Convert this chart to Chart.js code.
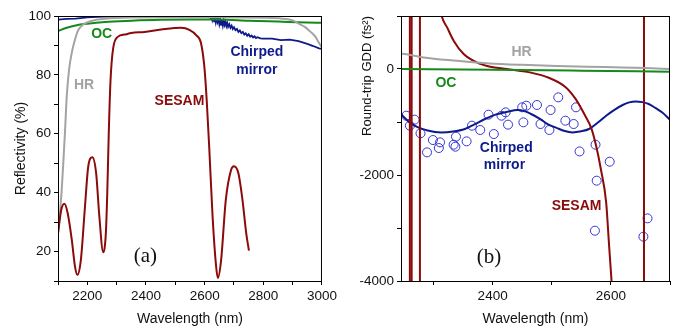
<!DOCTYPE html>
<html>
<head>
<meta charset="utf-8">
<script src="https://cdn.jsdelivr.net/npm/chart.js@4"></script>
<style>
  html, body { margin: 0; padding: 0; background: #fff; }
  .panel { position: absolute; top: 0; height: 328px; }
  #wrapA { left: 0; width: 340px; }
  #wrapB { left: 340px; width: 342px; }
</style>
</head>
<body>
<div class="panel" id="wrapA"><canvas id="chartA" width="340" height="328"></canvas></div>
<div class="panel" id="wrapB"><canvas id="chartB" width="342" height="328"></canvas></div>
<script>
// ---- panel (a): reflectivity (%) vs wavelength (nm)
const sesamReflX = [ 2100, 2111, 2122, 2133, 2147, 2158, 2166, 2178, 2192, 2203, 2217, 2230, 2241, 2254, 2263, 2268, 2273, 2279, 2288, 2305, 2327, 2350, 2395, 2452, 2520, 2548, 2571, 2588, 2599, 2607, 2616, 2627, 2639, 2645, 2656, 2672, 2690, 2700, 2715, 2729, 2742, 2751 ]
const sesamReflY = [ 26.2, 34.1, 36.2, 33, 24, 14.9, 12.1, 17.2, 35.3, 48.8, 52, 46.6, 31.9, 19.8, 26, 40, 60, 78, 89, 93, 93.7, 94.2, 94.6, 95.4, 96, 95.3, 93.5, 90.6, 82.7, 71.4, 54.5, 31.9, 15, 11, 17, 37.5, 47.7, 49, 46.6, 37.5, 26, 20.3 ]

const hrReflX = [ 2100, 2106, 2112, 2118, 2124, 2130, 2138, 2147, 2158, 2169, 2185, 2203, 2230, 2260, 2350, 2500, 2650, 2800, 2864, 2900, 2921, 2940, 2955, 2968, 2978, 2990, 3000 ]
const hrReflY = [ 26, 32, 40, 50, 61, 73, 82, 87.5, 92, 95.2, 97, 98, 98.7, 99.1, 99.5, 99.6, 99.6, 99.4, 99.1, 98.5, 97.4, 96.4, 95.2, 94, 92.9, 90.8, 89.3 ]

const ocReflX = [ 2100, 2130, 2160, 2200, 2260, 2350, 2450, 2550, 2650, 2750, 2850, 2950, 3000 ]
const ocReflY = [ 94.9, 96, 96.8, 97.4, 98, 98.4, 98.7, 98.8, 98.8, 98.4, 98.1, 97.8, 97.7 ]

const cmReflX = [ 2100, 2130, 2160, 2200, 2250, 2300, 2350, 2400, 2450, 2500, 2550, 2600, 2615, 2620, 2623, 2626, 2629, 2632, 2635, 2638, 2641, 2644, 2647, 2650, 2653, 2656, 2659, 2662, 2665, 2668, 2671, 2674, 2677, 2680, 2684, 2688, 2692, 2696, 2700, 2705, 2710, 2715, 2720, 2725, 2730, 2735, 2740, 2745, 2750, 2755, 2760, 2765, 2770, 2775, 2780, 2790, 2800, 2830, 2860, 2890, 2920, 2950, 2970, 2990, 3000 ]
const cmReflY = [ 98.8, 99, 99.1, 99.5, 99.8, 99.9, 99.7, 99.6, 99.6, 99.7, 99.7, 99.6, 99.6, 99.3, 99.8, 98.6, 99.7, 98.2, 99.5, 97.8, 99.3, 98, 99.2, 97.3, 98.9, 97, 98.6, 96.8, 98.5, 97, 98, 96.6, 97.6, 96.3, 97.2, 96, 96.7, 95.6, 96.2, 95.2, 95.6, 94.6, 95.1, 94.2, 94.6, 93.7, 94.1, 93.3, 93.8, 93, 93.4, 92.7, 93.1, 92.5, 92.8, 92.4, 92.3, 92.3, 91.8, 92, 91.5, 90.5, 89.8, 89, 88.8 ]

// ---- panel (b): round-trip GDD (fs^2) vs wavelength (nm)
const sesamGddX = [ 2310, 2314, 2323, 2334, 2351, 2373, 2396, 2424, 2463, 2496, 2524, 2540, 2555, 2567, 2575, 2583, 2592, 2597, 2603 ]
const sesamGddY = [ 1250, 994, 785, 534, 283, 125, 43, 0, -64, -170, -347, -560, -850, -1120, -1450, -1887, -2517, -3334, -4300 ]
const sesamPoleX = [ 2260, 2263, 2277, 2656 ]

const hrGddX = [ 2245, 2252, 2283, 2339, 2395, 2450, 2508, 2560, 2620, 2660, 2700 ]
const hrGddY = [ 290, 283, 219, 157, 106, 78, 57, 42, 30, 18, 0 ]

const ocGddX = [ 2245, 2400, 2550, 2700 ]
const ocGddY = [ 0, -15, -32, -50 ]

const cmFitX = [ 2245, 2252, 2262, 2274, 2290, 2313, 2333, 2353, 2370, 2387, 2405, 2425, 2442, 2455, 2465, 2480, 2493, 2508, 2522, 2535, 2550, 2563, 2578, 2592, 2606, 2620, 2631, 2642, 2653, 2664, 2676, 2687, 2700 ]
const cmFitY = [ -850, -930, -1030, -1100, -1160, -1196, -1180, -1132, -1040, -943, -860, -806, -774, -800, -849, -940, -1040, -1110, -1170, -1196, -1175, -1132, -1010, -881, -770, -679, -630, -611, -625, -660, -740, -819, -960 ]

const cmMeasX = [ 2254, 2260, 2268, 2278, 2289, 2299, 2309, 2311, 2334, 2337, 2338, 2356, 2365, 2379, 2393, 2402, 2415, 2422, 2426, 2450, 2452, 2457, 2475, 2481, 2498, 2496, 2511, 2523, 2537, 2541, 2547, 2574, 2576, 2598, 2573, 2655, 2662 ]
const cmMeasY = [ -881, -1069, -956, -1214, -1573, -1340, -1491, -1384, -1428, -1466, -1277, -1365, -1069, -1151, -862, -1227, -881, -818, -1050, -723, -1006, -692, -679, -1038, -774, -1151, -535, -975, -1038, -723, -1555, -1428, -2107, -1749, -3051, -3164, -2818 ]

const RED = '#8b0a0a', GRAY = '#a3a3a3', GREEN = '#15891a', NAVY = '#0d1a8c', BLUE = '#3535d2'

const pts = ( xs, ys ) => xs.map( ( x, i ) => ( { x: x, y: ys[ i ] } ) )

function line( xs, ys, color ) {
  return {
    data: pts( xs, ys ), borderColor: color, borderWidth: 2,
    pointRadius: 0, cubicInterpolationMode: 'monotone', fill: false
  }
}

// box around the plot area + in-plot labels (positions in data units)
function decor( labels ) {
  return {
    id: 'decor',
    afterDraw( chart ) {
      const { ctx, chartArea: a, scales } = chart
      ctx.save()
      ctx.strokeStyle = '#000'
      ctx.lineWidth = 1
      ctx.strokeRect( a.left + 0.5, a.top + 0.5, a.width - 1, a.height )
      ctx.textAlign = 'center'
      ctx.textBaseline = 'middle'
      labels.forEach( l => {
        ctx.fillStyle = l.color
        ctx.font = l.font
        ctx.fillText( l.text, scales.x.getPixelForValue( l.x ), scales.y.getPixelForValue( l.y ) )
      } )
      ctx.restore()
    }
  }
}

const BOLD = 'bold 14px "Liberation Sans", Arial, sans-serif'
const SERIF = '21px "Liberation Serif", "Times New Roman", serif'

function scales( o ) {
  const grid = { drawOnChartArea: false, tickLength: 4, tickColor: '#000', lineWidth: 1 }
  const border = { display: true, color: '#000', width: 1 }
  const tickFont = { size: 13.5 }
  return {
    x: {
      type: 'linear', min: o.xMin, max: o.xMax, grid, border,
      ticks: {
        stepSize: 100, includeBounds: false, maxRotation: 0, autoSkip: false,
        color: '#111', font: tickFont, padding: 3,
        callback: v => v % 200 === 0 ? String( v ) : ''
      },
      title: { display: true, text: 'Wavelength (nm)', color: '#111', font: { size: 14 }, padding: { top: 0, bottom: 0 } },
      afterFit: s => { s.height = 47 }
    },
    y: {
      type: 'linear', min: o.yMin, max: o.yMax, grid, border,
      ticks: {
        stepSize: o.yStep, includeBounds: false, autoSkip: false,
        color: '#111', font: tickFont, padding: 3,
        callback: v => v % ( o.yStep * 2 ) === 0 ? String( v ) : ''
      },
      title: { display: true, text: o.yTitle, align: o.titleAlign, color: '#111', font: { size: o.titleSize }, padding: { top: o.titlePad, bottom: 0 } },
      afterFit: s => { s.width = o.yWidth }
    }
  }
}

Chart.defaults.font.family = '"Liberation Sans", Arial, sans-serif'
Chart.defaults.animation = false

new Chart( document.getElementById( 'chartA' ), {
  type: 'line',
  data: {
    datasets: [
      line( sesamReflX, sesamReflY, RED ),
      line( hrReflX, hrReflY, GRAY ),
      line( ocReflX, ocReflY, GREEN ),
      Object.assign( line( cmReflX, cmReflY, NAVY ), { cubicInterpolationMode: 'default', tension: 0, borderWidth: 1.8 } )
    ]
  },
  options: {
    responsive: false,
    layout: { padding: { top: 16, right: 17, left: 0, bottom: 0 } },
    plugins: { legend: { display: false }, tooltip: { enabled: false } },
    scales: scales( { xMin: 2100, xMax: 3000, yMin: 10, yMax: 100, yStep: 10, yTitle: 'Reflectivity (%)', yWidth: 58, titlePad: 13, titleAlign: 'center', titleSize: 14 } )
  },
  plugins: [ decor( [
    { text: 'OC', x: 2249, y: 93.7, color: GREEN, font: BOLD },
    { text: 'HR', x: 2189, y: 76.5, color: GRAY, font: BOLD },
    { text: 'SESAM', x: 2514, y: 71.1, color: RED, font: BOLD },
    { text: 'Chirped', x: 2778, y: 87.6, color: NAVY, font: BOLD },
    { text: 'mirror', x: 2778, y: 81.7, color: NAVY, font: BOLD },
    { text: '(a)', x: 2398, y: 18.3, color: '#111', font: SERIF }
  ] ) ]
} )

new Chart( document.getElementById( 'chartB' ), {
  type: 'line',
  data: {
    datasets: [
      line( hrGddX, hrGddY, GRAY ),
      line( ocGddX, ocGddY, GREEN ),
      line( sesamGddX, sesamGddY, RED ),
      ...sesamPoleX.map( x => line( [ x, x ], [ -4000, 1000 ], RED ) ),
      line( cmFitX, cmFitY, NAVY ),
      {
        data: pts( cmMeasX, cmMeasY ), showLine: false, pointRadius: 4.5,
        pointBorderWidth: 1, pointBorderColor: BLUE, pointBackgroundColor: 'rgba(0,0,0,0)'
      }
    ]
  },
  options: {
    responsive: false,
    layout: { padding: { top: 16, right: 12, left: 0, bottom: 0 } },
    plugins: { legend: { display: false }, tooltip: { enabled: false } },
    scales: scales( { xMin: 2245, xMax: 2700, yMin: -4000, yMax: 1000, yStep: 1000, yTitle: 'Round-trip GDD (fs²)', yWidth: 61, titlePad: 20, titleAlign: 'end', titleSize: 13 } )
  },
  plugins: [ decor( [
    { text: 'HR', x: 2449, y: 313, color: GRAY, font: BOLD },
    { text: 'OC', x: 2321, y: -258, color: GREEN, font: BOLD },
    { text: 'Chirped', x: 2423, y: -1491, color: NAVY, font: BOLD },
    { text: 'mirror', x: 2420, y: -1806, color: NAVY, font: BOLD },
    { text: 'SESAM', x: 2542, y: -2580, color: RED, font: BOLD },
    { text: '(b)', x: 2394, y: -3555, color: '#111', font: SERIF }
  ] ) ]
} )
</script>
</body>
</html>
